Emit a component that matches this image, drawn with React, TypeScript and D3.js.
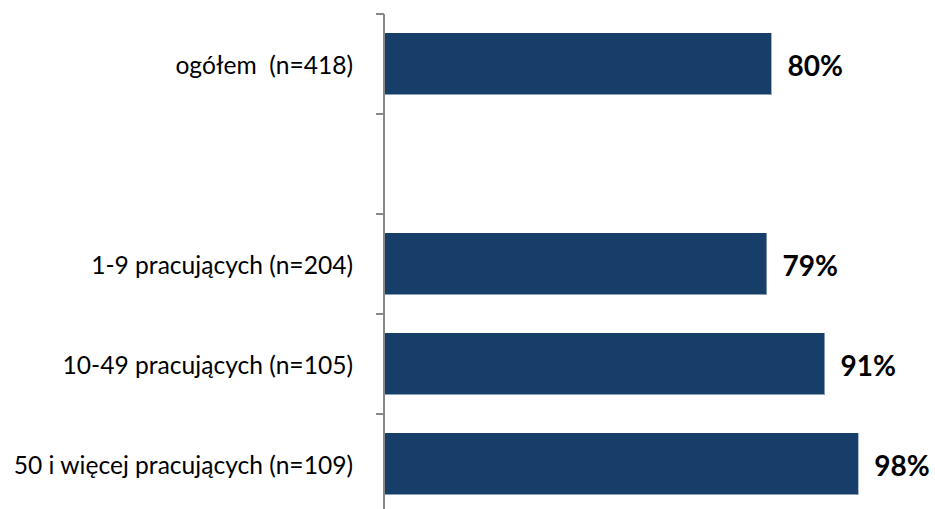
import React from "react";
import * as d3 from "d3";

const categories = [
  "ogółem  (n=418)",
  "",
  "1-9 pracujących (n=204)",
  "10-49 pracujących (n=105)",
  "50 i więcej pracujących (n=109)",
];
const values: (number | null)[] = [80, null, 79, 91, 98];

const W = 935;
const H = 509;

export default function App() {
  const y = d3
    .scaleBand<number>()
    .domain(d3.range(categories.length))
    .range([14, 514])
    .paddingInner(0.38)
    .paddingOuter(0.19);
  const x = d3.scaleLinear().domain([0, 100]).range([385, 868]);
  const step = y.step();
  const ticks = d3.range(categories.length + 1).map((i) => 14 + i * step);
  const axisX = 384;

  return (
    <svg
      width={W}
      height={H}
      style={{ position: "absolute", left: 0, top: 0, background: "#fff" }}
    >
      {categories.map((c, i) => {
        const v = values[i];
        const y0 = y(i)!;
        const bh = y.bandwidth();
        const cy = y0 + bh / 2;
        return (
          <g key={i}>
            {c && (
              <text
                x={353}
                y={cy}
                textAnchor="end"
                dominantBaseline="central"
                fontFamily="Lato, 'Open Sans', sans-serif"
                fontSize={24.6}
                fill="#000"
                style={{ whiteSpace: "pre" }}
              >
                {c}
              </text>
            )}
            {v != null && (
              <>
                <rect x={x(0)} y={y0} width={x(v) - x(0)} height={bh} fill="#173E69" />
                <line x1={x(0)} x2={x(v)} y1={y0 + bh - 0.5} y2={y0 + bh - 0.5} stroke="#8a9fb8" strokeWidth={1} />
                <text
                  x={x(v) + 16}
                  y={cy + 1}
                  dominantBaseline="central"
                  fontFamily="Lato, 'Open Sans', sans-serif"
                  fontWeight="bold"
                  fontSize={28}
                  fill="#000"
                >
                  {v}%
                </text>
              </>
            )}
          </g>
        );
      })}
      <line x1={axisX} x2={axisX} y1={14} y2={514} stroke="#888" strokeWidth={2} />
      {ticks.map((t, i) => (
        <line key={i} x1={376} x2={axisX} y1={t} y2={t} stroke="#888" strokeWidth={2} />
      ))}
    </svg>
  );
}
